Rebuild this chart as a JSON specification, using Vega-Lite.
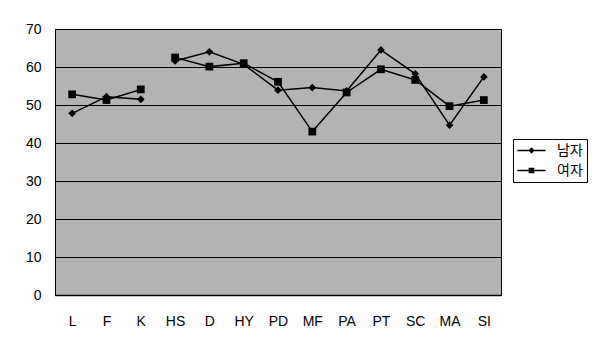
{
  "$schema": "https://vega.github.io/schema/vega-lite/v6.json",
  "autosize": "none",
  "width": 446,
  "height": 266,
  "padding": {"left": 55, "top": 29, "right": 91, "bottom": 44},
  "background": "white",
  "config": {
    "view": {"fill": "#b3b3b3", "stroke": "black", "strokeWidth": 1},
    "font": "Liberation Sans"
  },
  "data": {
    "values": [
      {"scale": "L", "sex": "남자", "seg": "a", "value": 47.8},
      {"scale": "F", "sex": "남자", "seg": "a", "value": 52.2},
      {"scale": "K", "sex": "남자", "seg": "a", "value": 51.5},
      {"scale": "HS", "sex": "남자", "seg": "b", "value": 61.6},
      {"scale": "D", "sex": "남자", "seg": "b", "value": 64.0},
      {"scale": "HY", "sex": "남자", "seg": "b", "value": 60.7},
      {"scale": "PD", "sex": "남자", "seg": "b", "value": 53.9},
      {"scale": "MF", "sex": "남자", "seg": "b", "value": 54.6},
      {"scale": "PA", "sex": "남자", "seg": "b", "value": 53.7},
      {"scale": "PT", "sex": "남자", "seg": "b", "value": 64.5},
      {"scale": "SC", "sex": "남자", "seg": "b", "value": 58.2},
      {"scale": "MA", "sex": "남자", "seg": "b", "value": 44.7},
      {"scale": "SI", "sex": "남자", "seg": "b", "value": 57.4},
      {"scale": "L", "sex": "여자", "seg": "a", "value": 52.8},
      {"scale": "F", "sex": "여자", "seg": "a", "value": 51.3},
      {"scale": "K", "sex": "여자", "seg": "a", "value": 54.1},
      {"scale": "HS", "sex": "여자", "seg": "b", "value": 62.5},
      {"scale": "D", "sex": "여자", "seg": "b", "value": 60.1},
      {"scale": "HY", "sex": "여자", "seg": "b", "value": 61.0},
      {"scale": "PD", "sex": "여자", "seg": "b", "value": 56.1},
      {"scale": "MF", "sex": "여자", "seg": "b", "value": 43.0},
      {"scale": "PA", "sex": "여자", "seg": "b", "value": 53.3},
      {"scale": "PT", "sex": "여자", "seg": "b", "value": 59.4},
      {"scale": "SC", "sex": "여자", "seg": "b", "value": 56.6},
      {"scale": "MA", "sex": "여자", "seg": "b", "value": 49.7},
      {"scale": "SI", "sex": "여자", "seg": "b", "value": 51.3}
    ]
  },
  "encoding": {
    "x": {
      "field": "scale",
      "type": "nominal",
      "sort": ["L", "F", "K", "HS", "D", "HY", "PD", "MF", "PA", "PT", "SC", "MA", "SI"],
      "scale": {"type": "point", "padding": 0.5},
      "axis": {
        "title": null,
        "labelAngle": 0,
        "labelFontSize": 14,
        "labelColor": "black",
        "labelPadding": 19,
        "ticks": false,
        "domainColor": "black",
        "domainWidth": 1.5,
        "grid": false
      }
    },
    "y": {
      "field": "value",
      "type": "quantitative",
      "scale": {"domain": [0, 70], "nice": false},
      "axis": {
        "title": null,
        "values": [0, 10, 20, 30, 40, 50, 60, 70],
        "labelFontSize": 14,
        "labelColor": "black",
        "labelPadding": 14,
        "ticks": false,
        "domainColor": "black",
        "grid": true,
        "gridColor": "black",
        "gridOpacity": 1,
        "gridWidth": 1
      }
    }
  },
  "layer": [
    {
      "mark": {"type": "line", "color": "black", "strokeWidth": 1.5},
      "encoding": {
        "detail": [{"field": "sex"}, {"field": "seg"}]
      }
    },
    {
      "mark": {"type": "point", "filled": true, "color": "black", "opacity": 1, "size": 60},
      "encoding": {
        "shape": {
          "field": "sex",
          "type": "nominal",
          "scale": {"domain": ["남자", "여자"], "range": ["diamond", "square"]},
          "legend": null
        }
      }
    },
    {
      "mark": {"type": "point", "filled": true, "color": "black", "opacity": 0},
      "encoding": {
        "shape": {
          "field": "sex",
          "type": "nominal",
          "scale": {"domain": ["남자", "여자"], "range": ["M-2,-0.1H2V0.1H-2ZM0,-0.45L0.45,0L0,0.45L-0.45,0Z", "M-2,-0.1H2V0.1H-2ZM-0.4,-0.4H0.4V0.4H-0.4Z"]},
          "legend": {
            "title": null,
            "orient": "none",
            "legendX": 458,
            "legendY": 110,
            "strokeColor": "black",
            "fillColor": "white",
            "padding": 4,
            "symbolSize": 200,
            "symbolOffset": 7,
            "symbolOpacity": 1,
            "symbolStrokeWidth": 0,
            "symbolFillColor": "black",
            "labelFont": "Noto Sans CJK KR",
            "labelFontSize": 14,
            "labelColor": "black",
            "labelOffset": 18,
            "rowPadding": 5
          }
        }
      }
    }
  ],
  "resolve": {"scale": {"shape": "independent"}}
}
